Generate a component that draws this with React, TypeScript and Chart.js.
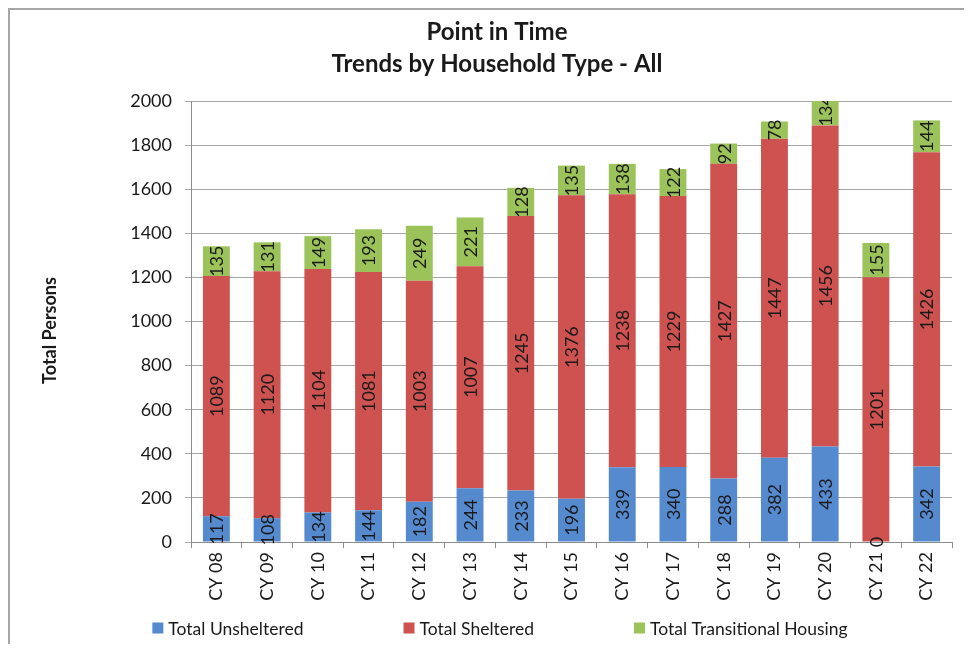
import React, { useEffect, useRef } from "react";
import { Chart, registerables } from "chart.js";

Chart.register(...registerables);

const categories = ["CY 08", "CY 09", "CY 10", "CY 11", "CY 12", "CY 13", "CY 14", "CY 15", "CY 16", "CY 17", "CY 18", "CY 19", "CY 20", "CY 21", "CY 22"];
const unsheltered = [117, 108, 134, 144, 182, 244, 233, 196, 339, 340, 288, 382, 433, 0, 342];
const sheltered = [1089, 1120, 1104, 1081, 1003, 1007, 1245, 1376, 1238, 1229, 1427, 1447, 1456, 1201, 1426];
const transitional = [135, 131, 149, 193, 249, 221, 128, 135, 138, 122, 92, 78, 134, 155, 144];

const seriesNames = ["Total Unsheltered", "Total Sheltered", "Total Transitional Housing"];
const seriesColors = ["#558ACF", "#CD5250", "#9CC25A"];
const titleLines = ["Point in Time", "Trends by Household Type - All"];
const yAxisTitle = "Total Persons";
const yMin = 0;
const yMax = 2000;
const yStep = 200;

const FONT = "Lato, 'Open Sans', 'DejaVu Sans', sans-serif";
const TEXT = "#1a1a1a";

const barLabelPlugin = {
  id: "barLabels",
  afterDatasetsDraw(chart: any) {
    const ctx = chart.ctx;
    const area = chart.chartArea;
    ctx.save();
    ctx.beginPath();
    ctx.rect(area.left, area.top, area.right - area.left, area.bottom - area.top + 20);
    ctx.clip();
    ctx.font = `18px ${FONT}`;
    ctx.fillStyle = TEXT;
    ctx.textAlign = "center";
    ctx.textBaseline = "middle";
    chart.data.datasets.forEach((ds: any, di: number) => {
      const meta = chart.getDatasetMeta(di);
      meta.data.forEach((el: any, i: number) => {
        const p = el.getProps(["x", "y", "base"], true);
        const cy = (p.y + p.base) / 2;
        ctx.save();
        ctx.translate(p.x, cy);
        ctx.rotate(-Math.PI / 2);
        ctx.fillText(String(ds.data[i]), 0, 1);
        ctx.restore();
      });
    });
    ctx.restore();
  },
};

const yTitlePlugin = {
  id: "yTitle",
  afterDraw(chart: any) {
    const ctx = chart.ctx;
    const area = chart.chartArea;
    ctx.save();
    ctx.font = `bold 18px ${FONT}`;
    ctx.fillStyle = TEXT;
    ctx.textAlign = "center";
    ctx.textBaseline = "middle";
    ctx.translate(40, (area.top + area.bottom) / 2 + 9);
    ctx.rotate(-Math.PI / 2);
    ctx.fillText(yAxisTitle, 0, 0);
    ctx.restore();
  },
};

const customLegendPlugin = {
  id: "customLegend",
  afterDraw(chart: any) {
    const ctx = chart.ctx;
    ctx.save();
    ctx.font = `17.5px ${FONT}`;
    const box = 11;
    const gapBox = 5;
    const gapItem = 100;
    const widths = seriesNames.map((n) => ctx.measureText(n).width);
    const total = widths.reduce((a, w) => a + box + gapBox + w, 0) + gapItem * (seriesNames.length - 1);
    let x = chart.width / 2 + 3 - total / 2;
    const y = chart.height - 16;
    ctx.textBaseline = "middle";
    ctx.textAlign = "left";
    seriesNames.forEach((n, i) => {
      ctx.fillStyle = seriesColors[i];
      ctx.fillRect(x, y - box / 2, box, box);
      ctx.fillStyle = TEXT;
      ctx.fillText(n, x + box + gapBox, y + 1);
      x += box + gapBox + widths[i] + gapItem;
    });
    ctx.restore();
  },
};

export default function App() {
  const canvasRef = useRef<HTMLCanvasElement>(null);

  useEffect(() => {
    if (!canvasRef.current) return;
    const seriesData = [unsheltered, sheltered, transitional];
    const chart = new Chart(canvasRef.current, {
      type: "bar",
      data: {
        labels: categories,
        datasets: seriesData.map((d, i) => ({
          label: seriesNames[i],
          data: d,
          backgroundColor: seriesColors[i],
          borderWidth: 0,
          categoryPercentage: 1,
          barPercentage: 0.53,
        })),
      },
      options: {
        responsive: false,
        animation: false,
        devicePixelRatio: 1,
        layout: { padding: 0 },
        plugins: {
          legend: { display: false },
          tooltip: { enabled: false },
          title: {
            display: true,
            text: titleLines,
            color: TEXT,
            font: { family: FONT, size: 24, weight: "bold", lineHeight: 32 / 24 },
            padding: { top: 6, bottom: 21 },
          },
        },
        scales: {
          x: {
            stacked: true,
            grid: {
              display: true,
              drawOnChartArea: false,
              drawTicks: true,
              tickLength: 6,
              color: "#8c8c8c",
              offset: true,
            },
            border: { display: true, color: "#8c8c8c" },
            ticks: {
              autoSkip: false,
              minRotation: 90,
              maxRotation: 90,
              padding: 4,
              color: TEXT,
              font: { family: FONT, size: 18 },
            },
            afterFit: (s: any) => {
              s.height = 102;
            },
          },
          y: {
            stacked: true,
            min: yMin,
            max: yMax,
            ticks: {
              stepSize: yStep,
              padding: 13,
              color: TEXT,
              font: { family: FONT, size: 18 },
              callback: (v: any) => String(v),
            },
            grid: { color: "#a6a6a6", tickLength: 6 },
            border: { display: true, color: "#8c8c8c" },
            afterFit: (s: any) => {
              s.width = 181;
            },
          },
          spacer: {
            type: "linear",
            position: "right",
            display: true,
            grid: { display: false, drawTicks: false },
            border: { display: false },
            ticks: { display: false },
            afterFit: (s: any) => {
              s.width = 32;
            },
          },
        },
      },
      plugins: [barLabelPlugin, yTitlePlugin, customLegendPlugin],
    } as any);
    return () => chart.destroy();
  }, []);

  return (
    <div
      style={{
        width: 956,
        height: 636,
        boxSizing: "border-box",
        borderTop: "2px solid #a6a6a6",
        borderLeft: "2px solid #a6a6a6",
        overflow: "hidden",
        background: "#fff",
      }}
    >
      <canvas ref={canvasRef} width={974} height={634} style={{ display: "block" }} />
    </div>
  );
}
